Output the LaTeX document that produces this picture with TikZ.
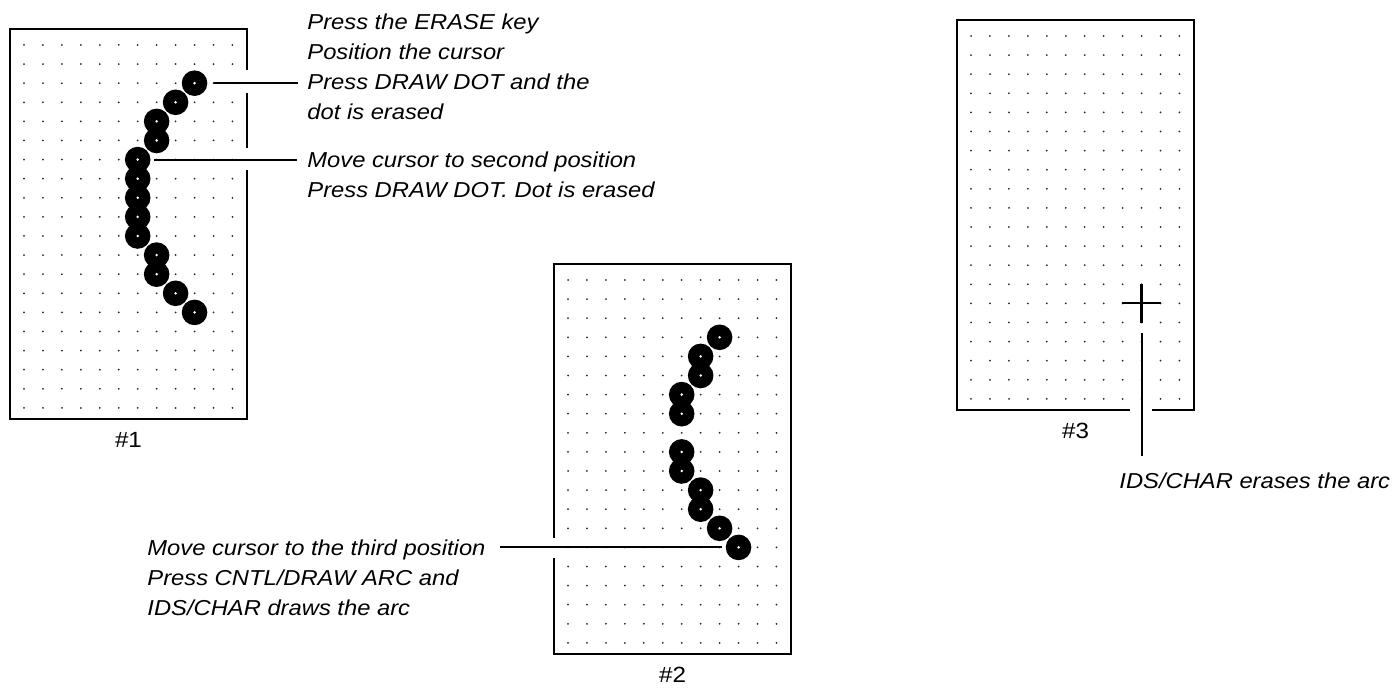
\documentclass[tikz,border=0pt]{standalone}
\usepackage{fontspec}
\setmainfont{Liberation Sans}[FakeStretch=1.1]
\usepackage{tikz}
\usetikzlibrary{positioning}

\begin{document}
\begin{tikzpicture}[
  x=0.5pt, y=-0.5pt,
  node distance=6pt,
  screen/.style={rectangle, draw=black, line width=1.1pt, minimum width=118.5pt,
                 minimum height=195pt, inner sep=0pt},
  griddot/.style={fill=black!85},
  bigdot/.style={circle, fill=black, minimum size=12.8pt, inner sep=0pt},
  crosshair/.style={minimum size=19pt, inner sep=0pt},
  note/.style={font=\fontsize{10.8}{15}\selectfont\itshape, align=left,
               inner sep=0pt, anchor=north west},
  tag/.style={font=\fontsize{11}{13}\selectfont, inner sep=0pt},
  leader/.style={line width=1pt},
  gap/.style={fill=white}
]
\useasboundingbox (0,0) rectangle (1396,689);

% the three screens
\node[screen] (screen1) at (128.5,224) {};
\node[screen] (screen2) at (672.5,459) {};
\node[screen] (screen3) at (1075.5,215) {};

\foreach \gx/\gy in {24/45, 568/280, 971/36}
  \foreach \i in {0,...,11}
    \foreach \j in {0,...,19}
      \fill[griddot] (\gx+18.95*\i, \gy+19.1*\j) circle (0.5pt);

% arc of dots, screen 1
\foreach \c/\r [count=\n] in {9/2, 8/3, 7/4, 7/5, 6/6, 6/7, 6/8, 6/9, 6/10, 7/11, 7/12, 8/13, 9/14}
  \node[bigdot] (a\n) at (24+18.95*\c, 45+19.1*\r) {};
\foreach \n in {1,...,13}
  \fill[white] (a\n) circle (0.7pt);

% arc of dots, screen 2
\foreach \c/\r [count=\n] in {8/3, 7/4, 7/5, 6/6, 6/7, 6/9, 6/10, 7/11, 7/12, 8/13, 9/14}
  \node[bigdot] (b\n) at (568+18.95*\c, 280+19.1*\r) {};
\foreach \n in {1,...,11}
  \fill[white] (b\n) circle (0.7pt);

% cursor, screen 3
\node[crosshair] (cur) at (971+18.95*9, 36+19.1*14) {};
\draw[line width=1.1pt] (cur.north) -- (cur.south) (cur.west) -- (cur.east);

% breaks in the frames
\fill[gap] (244,70) rectangle (250,93);
\fill[gap] (244,148) rectangle (250,170);
\fill[gap] (551,538) rectangle (557,558);
\fill[gap] (1130,406) rectangle (1152,414);

\node[note] (erase) at (307,13) {Press the ERASE key\\Position the cursor\\Press DRAW DOT and the\\dot is erased};
\node[note] (second) at (307,151) {Move cursor to second position\\Press DRAW DOT. Dot is erased};
\node[note] (third) at (147,539) {Move cursor to the third position\\Press CNTL/DRAW ARC and\\IDS/CHAR draws the arc};
\node[note] (arcgone) at (1119,472) {IDS/CHAR erases the arc};

\node[tag, below=of screen1] (tag1) {\#1};
\node[tag, below=of screen2] (tag2) {\#2};
\node[tag, below=of screen3] (tag3) {\#3};

\draw[leader, shorten <=3pt, shorten >=4.5pt] (a1) -- (a1 -| erase.west);
\draw[leader, shorten <=1.5pt, shorten >=5pt] (a5) -- (a5 -| second.west);
\draw[leader, shorten <=7pt, shorten >=1.5pt] (b11 -| third.east) -- (b11);
\draw[leader, shorten <=5pt, shorten >=8pt] (cur.south) -- (cur.south |- arcgone.north);

\end{tikzpicture}
\end{document}
